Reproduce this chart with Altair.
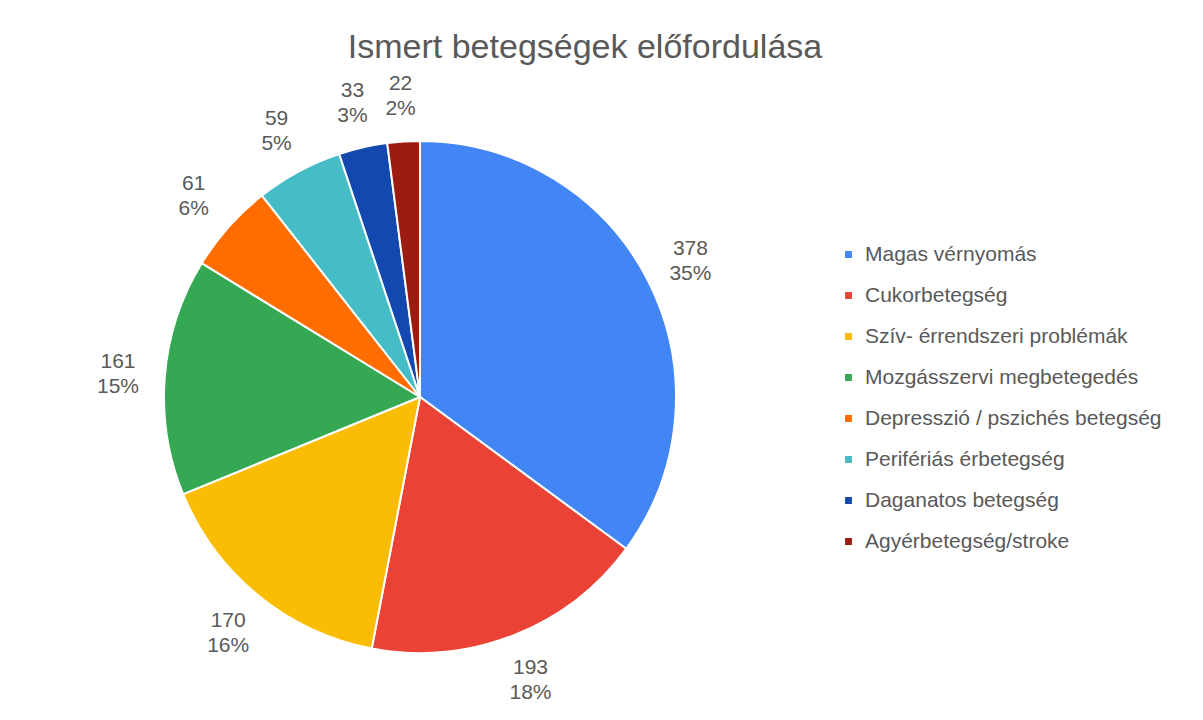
import altair as alt
import pandas as pd

categories = [
    "Magas vérnyomás",
    "Cukorbetegség",
    "Szív- érrendszeri problémák",
    "Mozgásszervi megbetegedés",
    "Depresszió / pszichés betegség",
    "Perifériás érbetegség",
    "Daganatos betegség",
    "Agyérbetegség/stroke",
]
values = [378, 193, 170, 161, 61, 59, 33, 22]
colors = ["#4285F4", "#EA4335", "#FBBC04", "#34A853", "#FF6D01", "#46BDC6", "#1349AE", "#9C1C11"]

df = pd.DataFrame({"category": categories, "value": values, "order": list(range(len(values)))})

FONT = "Liberation Sans"
TXT = "#595959"

base = alt.Chart(df).transform_joinaggregate(
    total="sum(value)"
).transform_calculate(
    label="datum.value + '\\n' + format(datum.value / datum.total, '.0%')",
).encode(
    theta=alt.Theta("value:Q", stack=True),
    order=alt.Order("order:Q"),
)

pie = base.mark_arc(outerRadius=256, stroke="white", strokeWidth=2).encode(
    color=alt.Color(
        "category:N",
        sort=categories,
        scale=alt.Scale(domain=categories, range=colors),
        legend=alt.Legend(
            title=None,
            orient="none",
            legendX=830,
            legendY=154,
            symbolType="square",
            symbolSize=70,
            labelFontSize=21,
            labelFont=FONT,
            labelColor=TXT,
            labelOffset=6,
            rowPadding=19,
            labelLimit=400,
        ),
    )
)

labels = base.mark_text(
    radius=303, dy=-11, fontSize=21, font=FONT, color=TXT, lineBreak="\n", lineHeight=25,
    align="center", baseline="middle",
).encode(text="label:N")

chart = (
    (pie + labels)
    .properties(
        width=824,
        height=614,
        padding={"top": 22, "left": 0, "right": 0, "bottom": 0},
        title=alt.TitleParams(
            "Ismert betegségek előfordulása",
            font=FONT,
            fontSize=34,
            fontWeight="normal",
            color=TXT,
            anchor="middle",
            frame="bounds",
            offset=8,
        ),
    )
    .configure_view(stroke=None)
    .configure(background="white")
)

chart.save("out.html", embed_options={"renderer": "svg", "actions": False})
